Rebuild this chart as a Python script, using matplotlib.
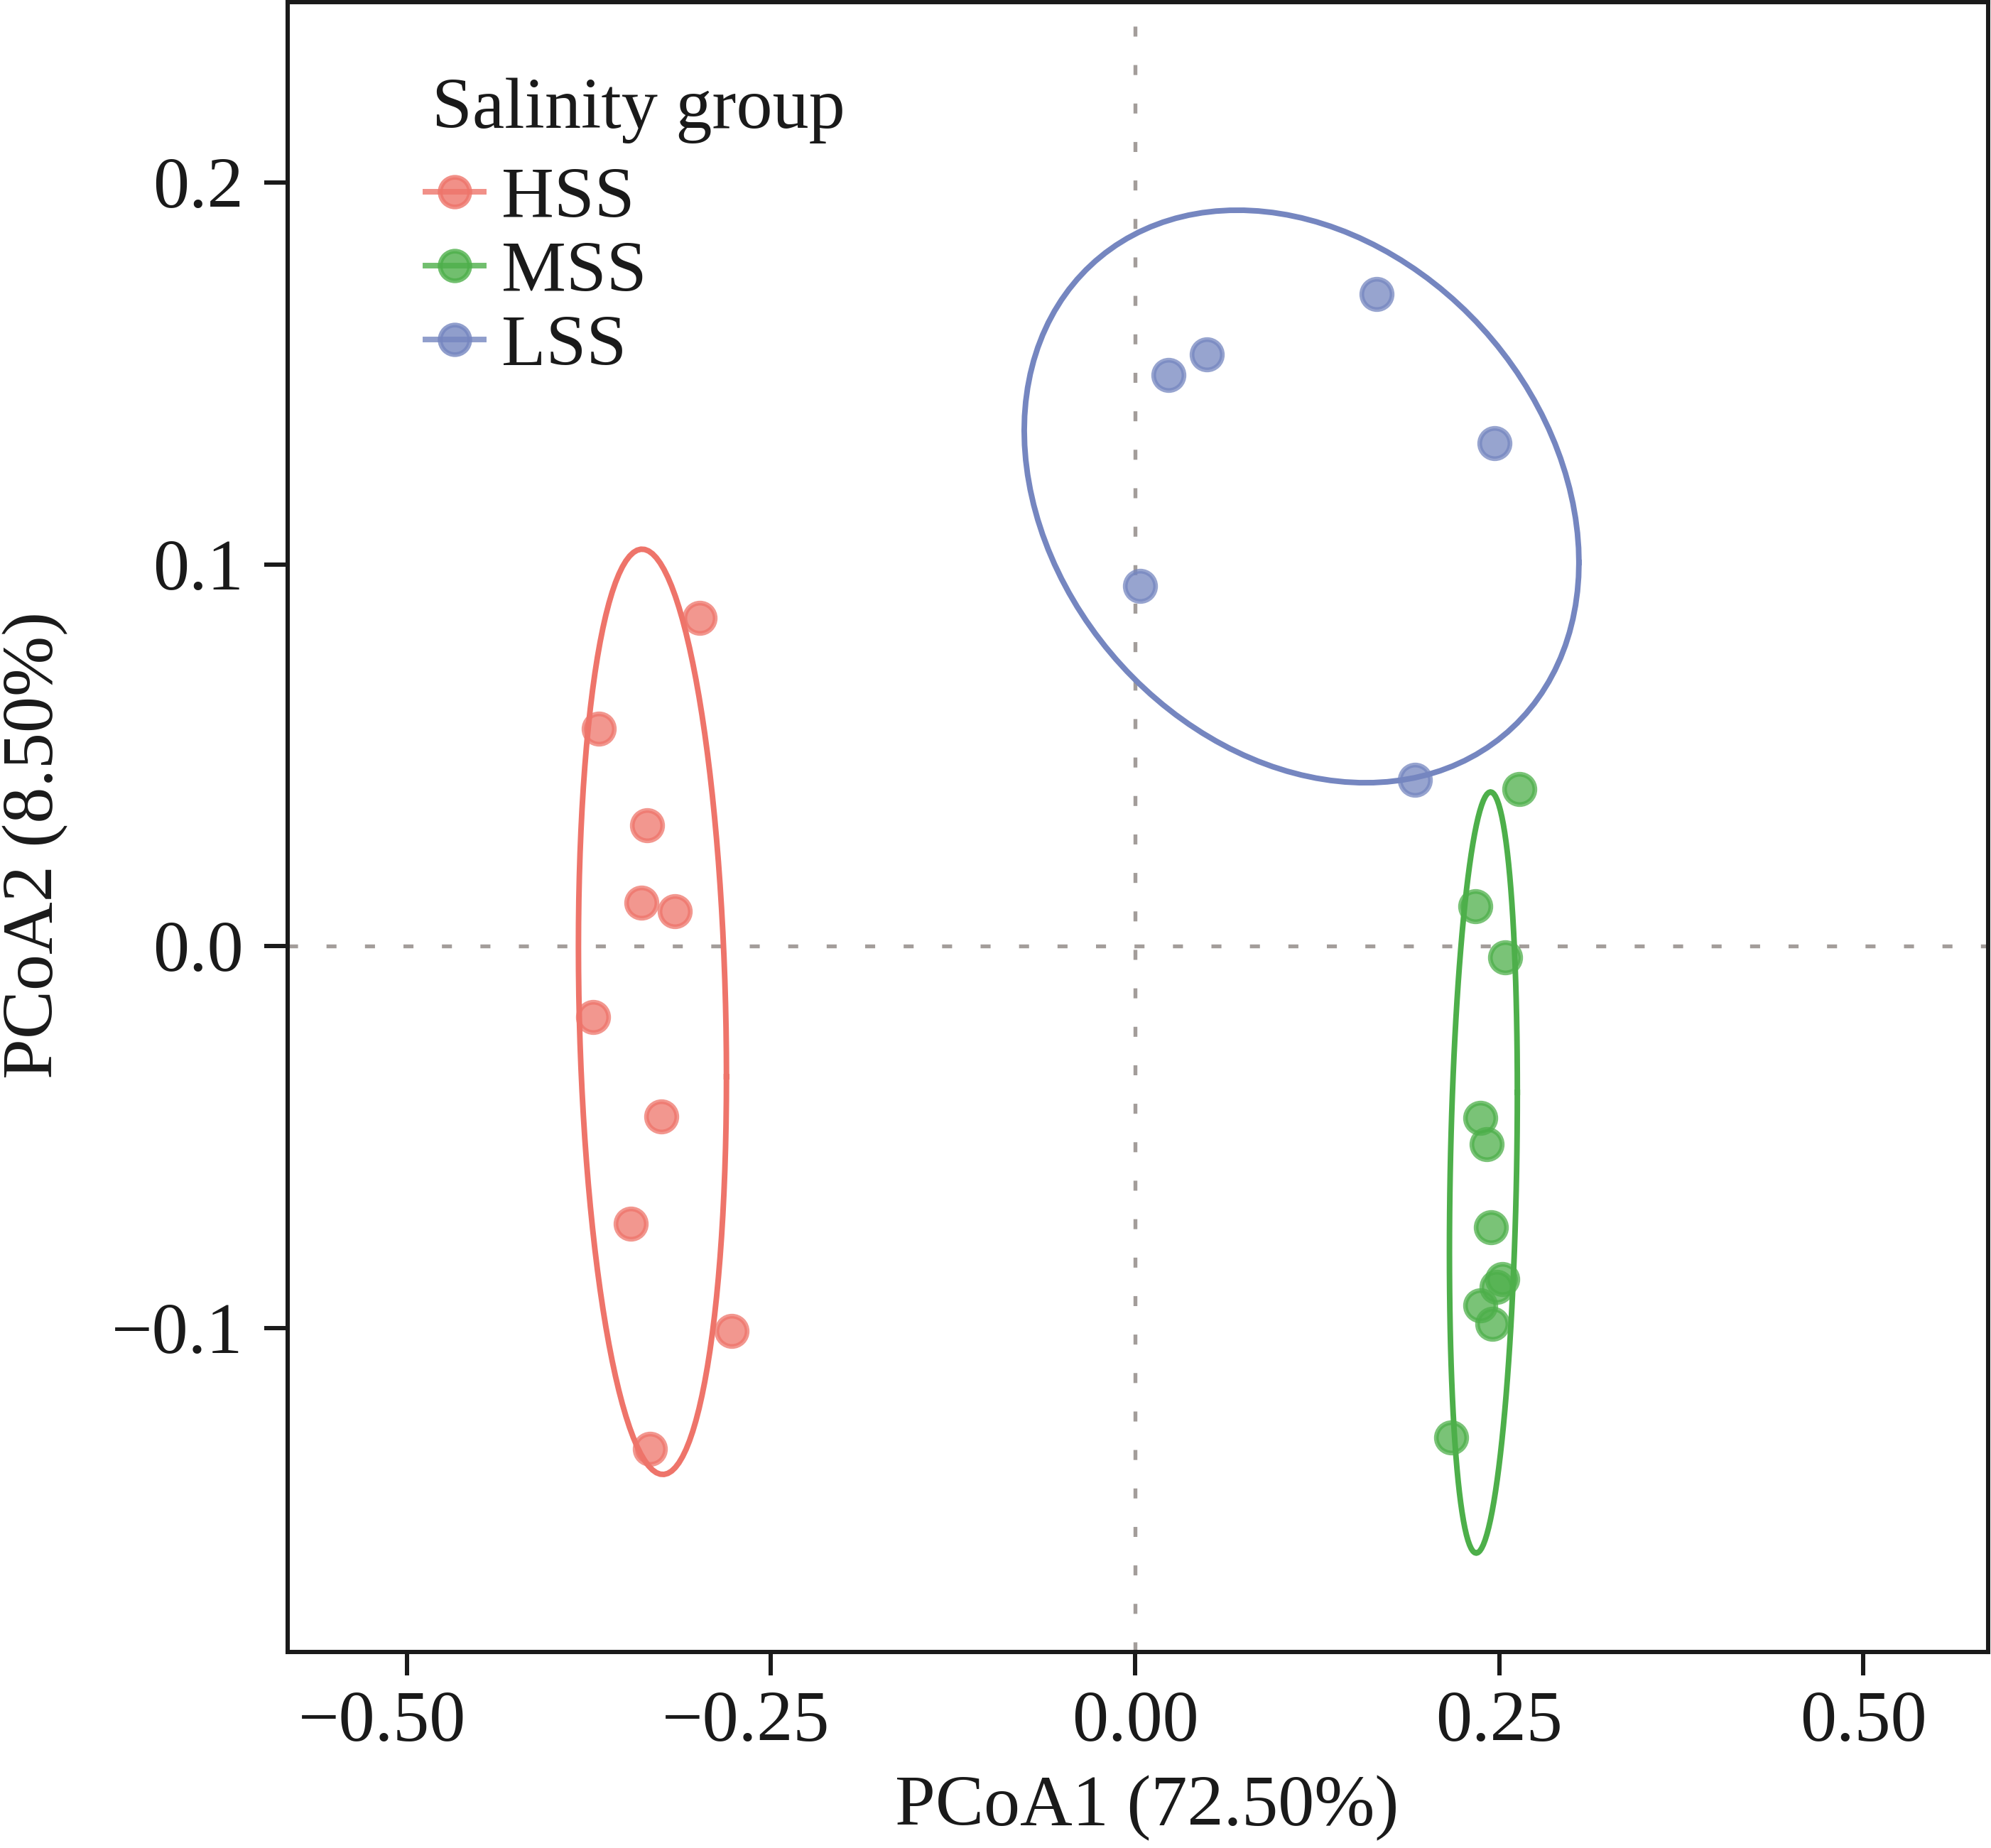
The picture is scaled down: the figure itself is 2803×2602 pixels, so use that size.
import numpy as np
import matplotlib
matplotlib.use("Agg")
import matplotlib.pyplot as plt
import matplotlib.transforms as mtransforms
from matplotlib.lines import Line2D

plt.rcParams["font.family"] = ["Liberation Serif", "DejaVu Serif"]
plt.rcParams["axes.unicode_minus"] = True

# PCoA scores
groups = ["HSS", "MSS", "LSS"]
colors = {"HSS": "#EE746A", "MSS": "#4DAF4A", "LSS": "#7586C0"}

hss_x = [-0.299, -0.368, -0.335, -0.339, -0.316, -0.372, -0.325, -0.346, -0.277, -0.333]
hss_y = [0.0860, 0.0569, 0.0317, 0.0114, 0.0092, -0.0186, -0.0447, -0.0728, -0.1008, -0.1317]

mss_x = [0.264, 0.2336, 0.254, 0.237, 0.2414, 0.2443, 0.252, 0.248, 0.237, 0.2453, 0.217]
mss_y = [0.0412, 0.0104, -0.0030, -0.0450, -0.0519, -0.0737, -0.0872, -0.0893, -0.0941, -0.0990, -0.1287]

lss_x = [0.1658, 0.0491, 0.0229, 0.2465, 0.0035, 0.192]
lss_y = [0.1708, 0.1550, 0.1496, 0.1317, 0.0944, 0.0436]

scores = {"HSS": (hss_x, hss_y), "MSS": (mss_x, mss_y), "LSS": (lss_x, lss_y)}

# group ellipses (order HSS, MSS, LSS):
# centre, half extent in x, half extent in y, y offset at the rightmost point
ell_cx = [-0.3313, 0.2391, 0.1143]
ell_cy = [-0.0172, -0.0593, 0.1178]
ell_hw = [0.0508, 0.0233, 0.1904]
ell_hh = [0.1212, 0.0997, 0.0750]
ell_dy = [-0.0170, 0.0210, -0.0173]

x_ticks = [-0.50, -0.25, 0.00, 0.25, 0.50]
x_ticklabels = ["\u22120.50", "\u22120.25", "0.00", "0.25", "0.50"]
y_ticks = [-0.1, 0.0, 0.1, 0.2]
y_ticklabels = ["\u22120.1", "0.0", "0.1", "0.2"]

x_title = "PCoA1 (72.50%)"
y_title = "PCoA2 (8.50%)"
legend_title = "Salinity group"

INK = "#1A1A1A"
FS = 24.5


def ellipse_path(cx, cy, hw, hh, dy, segments=120):
    t = np.linspace(0, 2 * np.pi, segments + 1)
    c = np.sqrt(max(hh ** 2 - dy ** 2, 0.0))
    return cx + hw * np.cos(t), cy + dy * np.cos(t) + c * np.sin(t)


W, H = 2803, 2602
dpi = 300
fig = plt.figure(figsize=(W / dpi, H / dpi), dpi=dpi)
ax = fig.add_axes([405 / W, 1 - 2326 / H, (2799 - 405) / W, (2326 - 3) / H])

ax.axhline(0, color="#A39D9A", lw=1.3, linestyle=(0, (2.6, 7.4)), zorder=1)
ax.axvline(0, color="#A39D9A", lw=1.3, linestyle=(0, (2.6, 7.4)), zorder=1)

for i, g in enumerate(groups):
    xs, ys = scores[g]
    c = colors[g]
    ax.scatter(xs, ys, s=105, color=c, alpha=0.75, linewidths=1.6, edgecolors=c, zorder=3)
    ex, ey = ellipse_path(ell_cx[i], ell_cy[i], ell_hw[i], ell_hh[i], ell_dy[i])
    ax.plot(ex, ey, color=c, lw=1.9, zorder=2)

ax.set_xlim(-0.5817, 0.5856)
ax.set_ylim(-0.1849, 0.2473)
ax.set_xticks(x_ticks)
ax.set_xticklabels(x_ticklabels)
ax.set_yticks(y_ticks)
ax.set_yticklabels(y_ticklabels)

for s in ax.spines.values():
    s.set_linewidth(1.45)
    s.set_color(INK)
ax.tick_params(axis="both", length=8, width=1.45, color=INK,
               labelsize=FS, labelcolor=INK)
ax.tick_params(axis="x", pad=5)
ax.tick_params(axis="y", pad=7)

# negative x labels sit a bit left of their tick in the original
shift = mtransforms.ScaledTranslation(-8.4 / 72, 0, fig.dpi_scale_trans)
for lab in ax.get_xticklabels():
    if lab.get_text().startswith("\u2212"):
        lab.set_transform(lab.get_transform() + shift)

ax.set_xlabel(x_title, fontsize=FS, color=INK)
ax.set_ylabel(y_title, fontsize=FS, color=INK)
ax.xaxis.set_label_coords(0.5054, -0.0747)
ax.yaxis.set_label_coords(-0.129, 0.489)

ax.text(0.0848, 0.924, legend_title, transform=ax.transAxes, fontsize=FS,
        color=INK, ha="left", va="baseline")
handles = [Line2D([0], [0], color=colors[g], lw=1.9, marker="o", markersize=10,
                  markerfacecolor=colors[g], markeredgecolor=colors[g],
                  markeredgewidth=1.6, alpha=0.8) for g in groups]
leg = ax.legend(handles, groups, loc="upper left", bbox_to_anchor=(0.0811, 0.9005),
                frameon=False, fontsize=FS, handlelength=0.8, handletextpad=0.25,
                labelspacing=0.105, borderaxespad=0, borderpad=0)
for t in leg.get_texts():
    t.set_color(INK)

fig.savefig("out.png", dpi=dpi)
